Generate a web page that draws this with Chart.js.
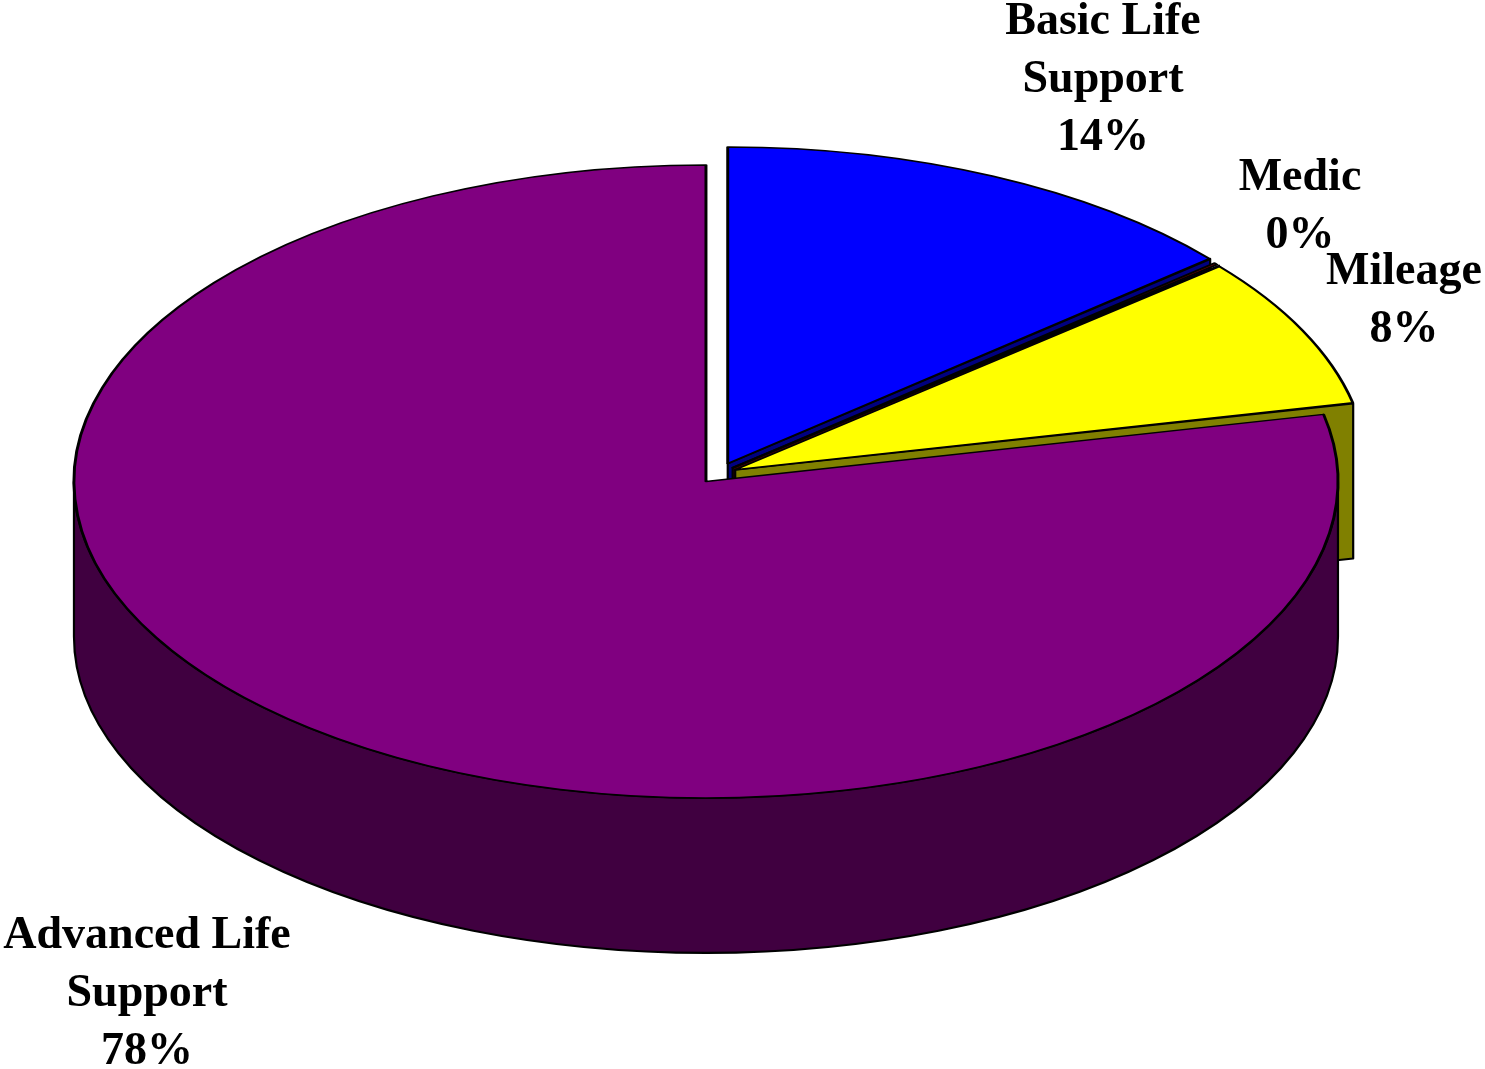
<!DOCTYPE html>
<html>
<head>
<meta charset="utf-8">
<style>html,body{margin:0;padding:0;background:#fff;overflow:hidden}#w{width:1485px;height:1069px}</style>
<script src="https://cdn.jsdelivr.net/npm/chart.js@4"></script>
</head>
<body>
<div id="w"><canvas id="c" width="1485" height="1069"></canvas></div>
<script>
const categories = ["Basic Life\nSupport", "Medic", "Mileage", "Advanced Life\nSupport"];
const values = [13.8, 0.1, 7.7, 78.4];
const explode = [75, 62, 62, 62];
const topColors = ["#0000FF", "#800000", "#FFFF00", "#800080"];
const sideColors = ["#000080", "#400000", "#808000", "#400040"];

const labelCentres = [[1103, 22], [1300, 178], [1404, 272], [147, 936]];
const CENTRE = {x: 718, y: 474};
const RX = 632, RY = 316.5, DEPTH = 155, LINE = 58;
const EDGE = "#000";

function geom(chart) {
  const arcs = chart.getDatasetMeta(0).data;
  const last = arcs[arcs.length - 1];
  const R = last.outerRadius + last.options.offset / 4;
  return {arcs, R, sx: RX / R, sy: RY / R};
}
function apex(arc, g) {
  const mid = (arc.startAngle + arc.endAngle) / 2;
  const o = arc.options.offset / 4;
  return {x: CENTRE.x + g.sx * o * Math.cos(mid), y: CENTRE.y + g.sy * o * Math.sin(mid)};
}
const pie3d = {
  id: "pie3d",
  afterDatasetsUpdate(chart) {
    // Chart.js changes each exploded arc's radius and sweep by amounts that depend
    // on its sweep; undo that so every slice keeps one radius and its true angles.
    const arcs = chart.getDatasetMeta(0).data;
    const last = arcs[arcs.length - 1];
    const R = last.outerRadius + last.options.offset / 4;
    arcs.forEach(arc => {
      const sweep = arc.endAngle - arc.startAngle;
      const fix = 1 - Math.sin(Math.min(Math.PI, sweep));
      const grow = (arc.options.offset / 4) * fix;
      const widen = grow / (Math.PI * R);
      arc.outerRadius = R - grow;
      arc.startDrawn = arc.startAngle;
      arc.startAngle -= widen / 2;
      arc.endAngle += widen / 2;
      arc.circumference = sweep + widen;
    });
  },
  beforeDatasetsDraw(chart) {
    const ctx = chart.ctx, g = geom(chart);
    ctx.save();
    ctx.lineWidth = 2.2; ctx.strokeStyle = EDGE; ctx.lineJoin = "round";
    g.arcs.forEach((arc, i) => {
      if (i === g.arcs.length - 1) return;
      const a = apex(arc, g);
      const ex = a.x + RX * Math.cos(arc.endAngle), ey = a.y + RY * Math.sin(arc.endAngle);
      ctx.beginPath();
      ctx.moveTo(a.x, a.y); ctx.lineTo(ex, ey);
      ctx.lineTo(ex, ey + DEPTH); ctx.lineTo(a.x, a.y + DEPTH);
      ctx.closePath();
      ctx.fillStyle = sideColors[i]; ctx.fill(); ctx.stroke();
    });
    const last = g.arcs.length - 1, p = apex(g.arcs[last], g);
    ctx.beginPath();
    ctx.ellipse(p.x, p.y, RX, RY, 0, 0, Math.PI, false);
    ctx.lineTo(p.x - RX, p.y + DEPTH);
    ctx.ellipse(p.x, p.y + DEPTH, RX, RY, 0, Math.PI, 0, true);
    ctx.closePath();
    ctx.fillStyle = sideColors[last]; ctx.fill(); ctx.stroke();
    ctx.restore();
    const arc0 = g.arcs[0];
    ctx.save();
    ctx.translate(CENTRE.x, CENTRE.y);
    ctx.scale(g.sx, g.sy);
    ctx.translate(-arc0.x, -arc0.y);
  },
  afterDatasetsDraw(chart) {
    chart.ctx.restore();
  },
  afterDraw(chart) {
    const ctx = chart.ctx;
    ctx.save();
    ctx.font = "bold 46px 'Liberation Serif'";
    ctx.fillStyle = "#000";
    ctx.textAlign = "center";
    ctx.textBaseline = "middle";
    categories.forEach((name, i) => {
      const lines = name.split("\n").concat(Math.round(values[i]) + "%");
      lines.forEach((t, k) => ctx.fillText(t, labelCentres[i][0], labelCentres[i][1] + k * LINE));
    });
    ctx.restore();
  }
};

new Chart(document.getElementById("c"), {
  type: "pie",
  data: {
    labels: categories,
    datasets: [{
      data: values,
      backgroundColor: topColors,
      borderColor: EDGE,
      borderWidth: 2.4,
      borderJoinStyle: "round",
      offset: explode,
      hoverOffset: 0
    }]
  },
  options: {
    responsive: false,
    animation: false,
    rotation: 0,
    layout: {padding: 0},
    plugins: {legend: {display: false}, tooltip: {enabled: false}}
  },
  plugins: [pie3d]
});
</script>
</body>
</html>
